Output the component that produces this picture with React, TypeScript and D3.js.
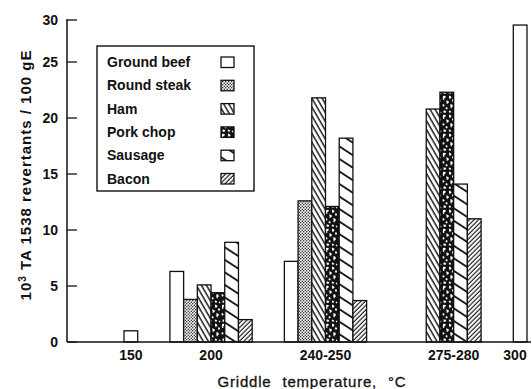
import React from "react";
import * as d3 from "d3";

const categories = ["150", "200", "240-250", "275-280", "300"];
const seriesNames = ["Ground beef", "Round steak", "Ham", "Pork chop", "Sausage", "Bacon"];
const groundBeef = [1.0, 6.3, 7.2, null, 29.4];
const roundSteak = [null, 3.8, 12.6, null, null];
const ham = [null, 5.1, 21.8, 20.8, null];
const porkChop = [null, 4.4, 12.1, 22.3, null];
const sausage = [null, 8.9, 18.2, 14.1, null];
const bacon = [null, 2.0, 3.7, 11.0, null];
const yTicks = [0, 5, 10, 15, 20, 25, 30];

const seriesValues: (number | null)[][] = [groundBeef, roundSteak, ham, porkChop, sausage, bacon];
const fills = ["#fff", "url(#pRound)", "url(#pHam)", "url(#pPork)", "url(#pSausage)", "url(#pBacon)"];

const FONT = "'Liberation Sans', Arial, Helvetica, sans-serif";

export default function App() {
  const W = 532, H = 389;
  const axisX = 67, baseY = 342, topY = 19;
  const y = d3.scaleLinear().domain([0, 25, 30]).range([baseY, 62, 20]);

  const slotCounts = categories.map((_, ci) => {
    let last = -1;
    seriesValues.forEach((vals, si) => { if (vals[ci] != null) last = si; });
    return last + 1;
  });
  const gapUnits = 2.35;
  const starts: number[] = [];
  let acc = 0;
  slotCounts.forEach((n, i) => { starts.push(acc); acc += n + (i < slotCounts.length - 1 ? gapUnits : 0); });
  const xUnit = d3.scaleLinear().domain([0, acc]).range([124, 527]);
  const bw = xUnit(1) - xUnit(0);

  const bars: { x: number; y0: number; h: number; fill: string; key: string }[] = [];
  const labelCenters: number[] = [];
  categories.forEach((c, ci) => {
    let first = -1, last = -1;
    seriesValues.forEach((vals, si) => {
      const v = vals[ci];
      if (v == null) return;
      if (first < 0) first = si;
      last = si;
      const x = xUnit(starts[ci] + si);
      bars.push({ x, y0: y(v), h: y(0) - y(v), fill: fills[si], key: c + si });
    });
    const center = (xUnit(starts[ci] + first) + xUnit(starts[ci] + last + 1)) / 2;
    labelCenters.push(Math.min(center, W - 17));
  });

  const legendX = 97, legendY = 46, legendW = 157, legendH = 145;

  return (
    <svg width={W} height={H} style={{ position: "absolute", left: 0, top: 0, background: "#fff" }}>
      <defs>
        <pattern id="pRound" width={3} height={3} patternUnits="userSpaceOnUse">
          <rect width={3} height={3} fill="#fff" />
          <circle cx={0.75} cy={0.75} r={0.75} fill="#111" />
          <circle cx={2.25} cy={2.25} r={0.75} fill="#111" />
        </pattern>
        <pattern id="pHam" width={4.4} height={10} patternUnits="userSpaceOnUse" patternTransform="rotate(-30)">
          <rect width={4.4} height={10} fill="#fff" />
          <line x1={1} y1={0} x2={1} y2={10} stroke="#111" strokeWidth={1.4} />
        </pattern>
        <pattern id="pSausage" width={10} height={10.5} patternUnits="userSpaceOnUse" patternTransform="rotate(33)">
          <rect width={10} height={10.5} fill="#fff" />
          <line x1={0} y1={1} x2={10} y2={1} stroke="#111" strokeWidth={1.8} />
        </pattern>
        <pattern id="pBacon" width={3.2} height={10} patternUnits="userSpaceOnUse" patternTransform="rotate(45)">
          <rect width={3.2} height={10} fill="#fff" />
          <line x1={1} y1={0} x2={1} y2={10} stroke="#111" strokeWidth={1.1} />
        </pattern>
        <pattern id="pPork" width={13} height={19} patternUnits="userSpaceOnUse">
          <rect width={13} height={19} fill="#111" />
          <path d="M1 1 q2 -1 3 0.8 q-0.6 1.4 -2 1.6 q1.2 1 -0.3 1.8 q-1.4 -0.8 -0.7 -4.2 z" fill="#fff" />
          <path d="M7 0.6 q2.2 0.4 2.6 1.8 q-1.2 0.6 -1.6 1.8 q-1.4 -0.5 -1 -3.6 z" fill="#fff" />
          <path d="M10.5 4 q1.8 0.5 1.6 2.2 q-1.2 0.8 -2.2 0 z" fill="#fff" />
          <path d="M4 5.5 q2.4 -0.3 3 1.6 q-0.8 2 -2.6 1.4 q0.8 -1.2 -0.4 -3 z" fill="#fff" />
          <path d="M0.8 9 q1.6 0.2 1.8 1.8 q-1 1.4 -2 0.4 z" fill="#fff" />
          <path d="M8.5 9 q2.6 0.4 2.4 2.6 q-1.6 0.3 -1.4 2 q-1.6 -0.4 -1 -4.6 z" fill="#fff" />
          <path d="M4 12 q1.8 0.2 1.6 2 q-1.2 0.8 -2 -0.2 z" fill="#fff" />
          <path d="M1.5 15.5 q2.2 -0.4 2.8 1.4 q-1.4 1.4 -2.8 0.6 z" fill="#fff" />
          <path d="M7 15.5 q2 0.2 2.2 1.6 q-1 1.2 -2.4 0.2 z" fill="#fff" />
          <path d="M11 16.5 q1.6 0.2 1.4 1.6 q-1 0.6 -1.6 -0.2 z" fill="#fff" />
        </pattern>
      </defs>

      {/* bars */}
      {bars.map((b) => (
        <rect key={b.key} x={b.x} y={b.y0} width={bw} height={b.h} fill={b.fill} stroke="#111" strokeWidth={1.3} />
      ))}

      {/* axes */}
      <line x1={axisX} y1={topY} x2={axisX} y2={baseY} stroke="#111" strokeWidth={1.5} />
      <line x1={axisX} y1={baseY} x2={531} y2={baseY} stroke="#111" strokeWidth={1.5} />
      {yTicks.map((t) => (
        <g key={t}>
          <line x1={axisX} y1={y(t)} x2={axisX + 10} y2={y(t)} stroke="#111" strokeWidth={1.3} />
          <text x={58} y={y(t)} dy="0.36em" textAnchor="end" fontFamily={FONT} fontWeight="bold" fontSize={14} fill="#111">{t}</text>
        </g>
      ))}

      {categories.map((c, i) => (
        <text key={c} x={labelCenters[i]} y={360} textAnchor="middle" fontFamily={FONT} fontWeight="bold" fontSize={14} fill="#111">{c}</text>
      ))}

      <text x={312} y={387} textAnchor="middle" fontFamily={FONT} fontSize={15} letterSpacing={0.8} wordSpacing={6} stroke="#111" strokeWidth={0.3} fill="#111">Griddle temperature, °C</text>

      <text transform="translate(31,175) rotate(-90)" textAnchor="middle" fontFamily={FONT} fontWeight="bold" fontSize={15} letterSpacing={1.0} fill="#111">
        10<tspan dy={-5} fontSize={10}>3</tspan><tspan dy={5}> TA 1538 revertants / 100 gE</tspan>
      </text>

      {/* legend */}
      <rect x={legendX} y={legendY} width={legendW} height={legendH} fill="#fff" stroke="#111" strokeWidth={1.4} />
      {seriesNames.map((s, i) => {
        const sy = 57 + i * 23.3;
        return (
          <g key={s}>
            <text x={107} y={sy + 10} fontFamily={FONT} fontWeight="bold" fontSize={14} fill="#111">{s}</text>
            <rect x={221} y={sy} width={13} height={10.5} fill={fills[i]} stroke="#111" strokeWidth={1.3} />
          </g>
        );
      })}
    </svg>
  );
}
